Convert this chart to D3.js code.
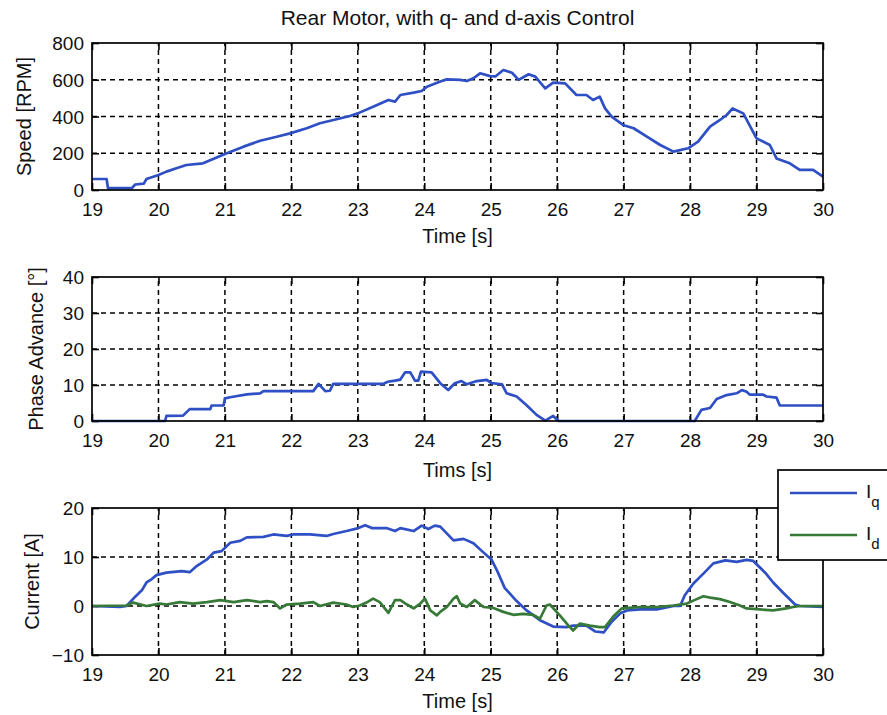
<!DOCTYPE html>
<html>
<head>
<meta charset="utf-8">
<script src="https://cdn.jsdelivr.net/npm/d3@7"></script>
<style>
  html, body { margin: 0; padding: 0; background: #fff; }
  svg { display: block; font-family: "Liberation Sans", Arial, sans-serif; }
</style>
</head>
<body>
<svg id="chart" width="887" height="715"></svg>
<script>
// ---------- DATA ----------
const title = "Rear Motor, with q- and d-axis Control";
const xTicks = [19, 20, 21, 22, 23, 24, 25, 26, 27, 28, 29, 30];
const speedTicks = [0, 200, 400, 600, 800];
const phaseTicks = [0, 10, 20, 30, 40];
const currentTicks = [-10, 0, 10, 20];

// Speed [RPM] vs time [s]
const speedData = [
  [19,60],[19.22,60],[19.24,10],[19.6,10],[19.65,30],[19.78,35],[19.82,60],[20.0,82],[20.12,100],
  [20.27,118],[20.42,136],[20.67,145],[20.93,185],[21.0,196],[21.28,236],[21.53,268],[21.78,290],
  [21.98,308],[22.23,336],[22.43,363],[22.68,385],[22.88,403],[23.0,417],[23.23,453],[23.46,490],
  [23.56,481],[23.64,517],[23.84,530],[23.96,539],[24.04,562],[24.24,590],[24.34,602],[24.54,599],
  [24.64,593],[24.74,608],[24.84,635],[24.99,620],[25.07,618],[25.19,653],[25.32,638],[25.42,599],
  [25.57,630],[25.67,617],[25.82,553],[25.94,584],[26.12,580],[26.29,517],[26.44,517],[26.54,490],
  [26.64,508],[26.72,444],[26.82,399],[26.99,354],[27.15,336],[27.35,290],[27.55,245],[27.75,209],
  [27.97,227],[28.12,263],[28.30,345],[28.45,381],[28.55,408],[28.64,444],[28.80,417],[29.0,281],
  [29.2,245],[29.3,172],[29.5,145],[29.65,109],[29.85,109],[30,73]
];

// Phase Advance [deg] vs time [s]
const phaseData = [
  [19,0],[20.1,0],[20.12,1.4],[20.37,1.5],[20.47,3.3],[20.78,3.3],[20.8,4.3],[20.98,4.3],[21.0,6.3],
  [21.08,6.6],[21.33,7.4],[21.53,7.7],[21.58,8.3],[22.33,8.3],[22.41,10.3],[22.51,8.3],[22.58,8.4],
  [22.63,10.3],[23.38,10.3],[23.45,10.9],[23.56,11.2],[23.64,11.5],[23.71,13.5],[23.79,13.5],
  [23.86,11.2],[23.91,11.2],[23.95,13.7],[24.11,13.5],[24.24,10.5],[24.36,8.6],[24.46,10.5],
  [24.56,11.1],[24.64,10.2],[24.79,11.1],[24.94,11.4],[25.01,10.5],[25.17,10.2],[25.24,7.7],
  [25.39,6.8],[25.54,4.4],[25.69,1.7],[25.82,0.1],[25.94,1.4],[26.02,0],[28.07,0],[28.17,3.1],
  [28.3,3.6],[28.4,6.1],[28.55,7.2],[28.7,7.7],[28.78,8.6],[28.85,8.1],[28.9,7.3],[29.1,7.3],
  [29.15,6.8],[29.3,6.5],[29.35,4.3],[30,4.3]
];

// Iq [A] vs time [s]
const iqData = [
  [19,0],[19.42,-0.2],[19.52,0],[19.65,1.9],[19.75,3.2],[19.82,4.8],[19.9,5.5],[19.97,6.3],[20.12,6.8],
  [20.35,7.1],[20.47,6.9],[20.58,8.2],[20.73,9.5],[20.83,10.9],[20.95,11.2],[21.08,12.9],[21.23,13.3],
  [21.33,14.0],[21.58,14.1],[21.73,14.6],[21.93,14.3],[22.03,14.6],[22.28,14.6],[22.53,14.3],
  [22.63,14.7],[22.83,15.3],[23.01,15.9],[23.11,16.5],[23.21,15.9],[23.43,15.9],[23.56,15.3],
  [23.64,15.9],[23.84,15.3],[23.96,16.4],[24.06,15.7],[24.16,16.4],[24.24,16.2],[24.44,13.4],
  [24.59,13.7],[24.74,12.8],[24.86,11.3],[25.01,9.5],[25.11,6.8],[25.21,3.7],[25.39,1.0],
  [25.54,-0.9],[25.74,-2.9],[25.94,-4.2],[26.14,-4.3],[26.24,-4.0],[26.44,-4.0],[26.57,-5.2],
  [26.70,-5.4],[26.82,-3.2],[26.95,-1.5],[27.05,-0.9],[27.25,-0.7],[27.5,-0.7],[27.75,0],[27.85,0],
  [27.92,2.2],[28.05,4.6],[28.2,6.6],[28.35,8.7],[28.53,9.3],[28.7,9.0],[28.85,9.4],[28.95,9.2],
  [29.13,6.8],[29.25,4.8],[29.4,2.7],[29.58,0.3],[29.65,0],[30,-0.2]
];

// Id [A] vs time [s]
const idData = [
  [19,0],[19.52,0.1],[19.62,0.7],[19.82,0],[20.02,0.5],[20.12,0.3],[20.32,0.8],[20.52,0.5],[20.73,0.8],
  [20.93,1.2],[21.13,0.8],[21.33,1.2],[21.53,0.8],[21.63,1.0],[21.73,0.8],[21.83,-0.5],[21.93,0.3],
  [22.13,0.5],[22.33,0.8],[22.43,0],[22.63,0.7],[22.83,0.3],[22.93,-0.2],[23.03,0.1],[23.13,0.7],
  [23.23,1.5],[23.33,0.8],[23.46,-1.4],[23.56,1.2],[23.64,1.2],[23.74,0.3],[23.84,-0.5],[23.94,0.5],
  [24.01,1.5],[24.09,-0.9],[24.19,-1.9],[24.24,-1.2],[24.34,-0.2],[24.44,1.5],[24.49,2.0],[24.54,0.5],
  [24.64,-0.2],[24.76,1.2],[24.89,-0.2],[25.04,-0.4],[25.19,-1.2],[25.34,-1.8],[25.49,-1.6],
  [25.64,-1.8],[25.74,-2.6],[25.84,0.1],[25.89,0.3],[26.04,-1.9],[26.17,-4.0],[26.24,-5.0],
  [26.34,-3.6],[26.49,-4.0],[26.64,-4.3],[26.72,-4.3],[26.84,-2.2],[26.97,-0.5],[27.25,-0.2],
  [27.5,-0.2],[27.75,0.1],[27.95,0.5],[28.1,1.4],[28.2,2.0],[28.3,1.7],[28.45,1.4],[28.6,0.8],
  [28.75,0.1],[28.85,-0.5],[29.05,-0.7],[29.25,-0.9],[29.45,-0.5],[29.55,-0.2],[29.65,0],[30,0]
];

// ---------- LAYOUT ----------
const svg = d3.select("#chart");
const blue = "#2f4fc4";
const green = "#377a37";
const textColor = "#111";
const left = 92, right = 823;
const x = d3.scaleLinear().domain([19, 30]).range([left, right]);

svg.append("text")
  .attr("x", (left + right) / 2).attr("y", 25)
  .attr("text-anchor", "middle")
  .attr("font-size", 21).attr("fill", textColor)
  .text(title);

function panel(cfg) {
  const y = d3.scaleLinear().domain(cfg.domain).range([cfg.bottom, cfg.top]);
  const g = svg.append("g");

  // grid
  const grid = g.append("g")
    .attr("stroke", "#000").attr("stroke-width", 1.5).attr("stroke-dasharray", "5,4");
  xTicks.slice(1, -1).forEach(t => {
    grid.append("line").attr("x1", x(t)).attr("x2", x(t))
      .attr("y1", cfg.bottom).attr("y2", cfg.top);
  });
  cfg.ticks.slice(1, -1).forEach(v => {
    grid.append("line").attr("x1", left).attr("x2", right)
      .attr("y1", y(v)).attr("y2", y(v));
  });

  // axes via d3 axis generators (inner ticks)
  const fs = 19;
  const xb = g.append("g").attr("transform", `translate(0,${cfg.bottom})`)
    .call(d3.axisBottom(x).tickValues(xTicks).tickFormat(d3.format("d")).tickSizeInner(-7).tickSizeOuter(0).tickPadding(15));
  const xt = g.append("g").attr("transform", `translate(0,${cfg.top})`)
    .call(d3.axisTop(x).tickValues(xTicks).tickFormat("").tickSizeInner(-7).tickSizeOuter(0));
  const yl = g.append("g").attr("transform", `translate(${left},0)`)
    .call(d3.axisLeft(y).tickValues(cfg.ticks).tickFormat(d3.format("d")).tickSizeInner(-7).tickSizeOuter(0).tickPadding(15));
  const yr = g.append("g").attr("transform", `translate(${right},0)`)
    .call(d3.axisRight(y).tickValues(cfg.ticks).tickFormat("").tickSizeInner(-7).tickSizeOuter(0));
  [xb, xt, yl, yr].forEach(a => {
    a.select(".domain").remove();
    a.selectAll(".tick line").attr("stroke", "#000").attr("stroke-width", 1.6);
    a.selectAll("text").attr("font-size", fs).attr("fill", textColor)
      .attr("font-family", "'Liberation Sans', Arial, sans-serif");
  });
  xb.selectAll("text").attr("dy", null).attr("y", 26).attr("dominant-baseline", "auto");
  yl.selectAll("text").attr("x", -8).attr("dy", "0.35em");

  // data lines
  const line = d3.line().x(d => x(d[0])).y(d => y(d[1]));
  cfg.series.forEach(s => {
    g.append("path").datum(s.data)
      .attr("fill", "none").attr("stroke", s.color)
      .attr("stroke-width", 2.7).attr("stroke-linejoin", "round")
      .attr("d", line);
  });

  // frame
  g.append("rect").attr("x", left).attr("y", cfg.top)
    .attr("width", right - left).attr("height", cfg.bottom - cfg.top)
    .attr("fill", "none").attr("stroke", "#000").attr("stroke-width", 1.7);

  // labels
  g.append("text").attr("x", (left + right) / 2).attr("y", cfg.xlabelY)
    .attr("text-anchor", "middle").attr("font-size", 20).attr("fill", textColor)
    .text(cfg.xlabel);
  g.append("text")
    .attr("transform", `translate(${cfg.ylabelX},${(cfg.top + cfg.bottom) / 2}) rotate(-90)`)
    .attr("text-anchor", "middle").attr("font-size", 20).attr("fill", textColor)
    .text(cfg.ylabel);
  return y;
}

panel({ top: 43, bottom: 190, domain: [0, 800], ticks: speedTicks,
  xlabel: "Time [s]", xlabelY: 243, ylabel: "Speed [RPM]", ylabelX: 31,
  series: [{ data: speedData, color: blue }] });

panel({ top: 277, bottom: 421, domain: [0, 40], ticks: phaseTicks,
  xlabel: "Tims [s]", xlabelY: 477, ylabel: "Phase Advance [°]", ylabelX: 43,
  series: [{ data: phaseData, color: blue }] });

panel({ top: 508, bottom: 655, domain: [-10, 20], ticks: currentTicks,
  xlabel: "Time [s]", xlabelY: 708, ylabel: "Current [A]", ylabelX: 39,
  series: [{ data: iqData, color: blue }, { data: idData, color: green }] });

// legend
const legend = svg.append("g");
legend.append("rect").attr("x", 778).attr("y", 470).attr("width", 130).attr("height", 90)
  .attr("fill", "#fff").attr("stroke", "#000").attr("stroke-width", 1.7);
const legendItems = [
  { label: "I", sub: "q", color: blue, y: 493 },
  { label: "I", sub: "d", color: green, y: 535 }
];
legendItems.forEach(it => {
  legend.append("line").attr("x1", 790).attr("x2", 857).attr("y1", it.y).attr("y2", it.y)
    .attr("stroke", it.color).attr("stroke-width", 2.7);
  const t = legend.append("text").attr("x", 866).attr("y", it.y + 5)
    .attr("font-size", 19).attr("fill", textColor);
  t.append("tspan").text(it.label);
  t.append("tspan").attr("dy", 9).attr("font-size", 15).text(it.sub);
});
</script>
</body>
</html>
